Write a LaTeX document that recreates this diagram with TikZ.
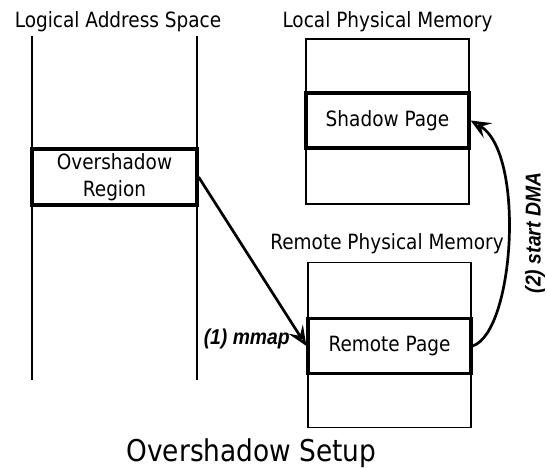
\documentclass[tikz,border=0pt]{standalone}
\usepackage{fontspec}
\setmainfont{DejaVu Sans}[FakeStretch=0.88]
\newfontfamily\notefont{Liberation Sans}[FakeStretch=0.9]
\usetikzlibrary{arrows.meta}
\begin{document}
\begin{tikzpicture}[x=1pt,y=-1pt,
  mem/.style={draw,line width=1.5pt,minimum width=163pt,minimum height=165pt,inner sep=0pt},
  page/.style={draw,line width=3.2pt,fill=white,minimum width=163pt,minimum height=55pt,inner sep=0pt,align=center,font=\fontsize{21}{27}\selectfont},
  head/.style={anchor=base,font=\fontsize{21}{24}\selectfont},
  note/.style={inner sep=0pt,font=\notefont\bfseries\itshape\fontsize{21.5}{24}\selectfont},
  link/.style={line width=2.7pt,-{Stealth[open,length=20pt,width=17pt,inset=8pt]}}]
\useasboundingbox (0,0) rectangle (547,468);
% logical side
\draw[line width=1.5pt] (32,36) -- (32,380);
\draw[line width=1.5pt] (197,36) -- (197,380);
\node (region) [page,minimum width=165pt,minimum height=56pt] at (114.5,177) {Overshadow\\Region};
\node (lashead) [head] at (118,28) {Logical Address Space};
% local and remote memory
\node (localmem) [mem] at (387.5,121.5) {};
\node (shadow) [page] at (387.5,120.5) {Shadow Page};
\node (localhead) [head] at (387.5,28) {Local Physical Memory};
\node (remotemem) [mem] at (389.5,345) {};
\node (remote) [page] at (389.5,346) {Remote Page};
\node (remotehead) [head] at (387,250) {Remote Physical Memory};
% steps
\draw[link] (region.east) -- (remote.west);
\node (mmapnote) [note,anchor=east] at (290,339) {(1) mmap};
\draw[link] (remote.east) .. controls +(42,-14) and +(55,32) .. (shadow.east);
\node (dmanote) [note,rotate=90] at (535,233) {(2) start DMA};
\node (title) [anchor=base,font=\fontsize{30}{34}\selectfont] at (251.5,461) {Overshadow Setup};
\end{tikzpicture}
\end{document}
